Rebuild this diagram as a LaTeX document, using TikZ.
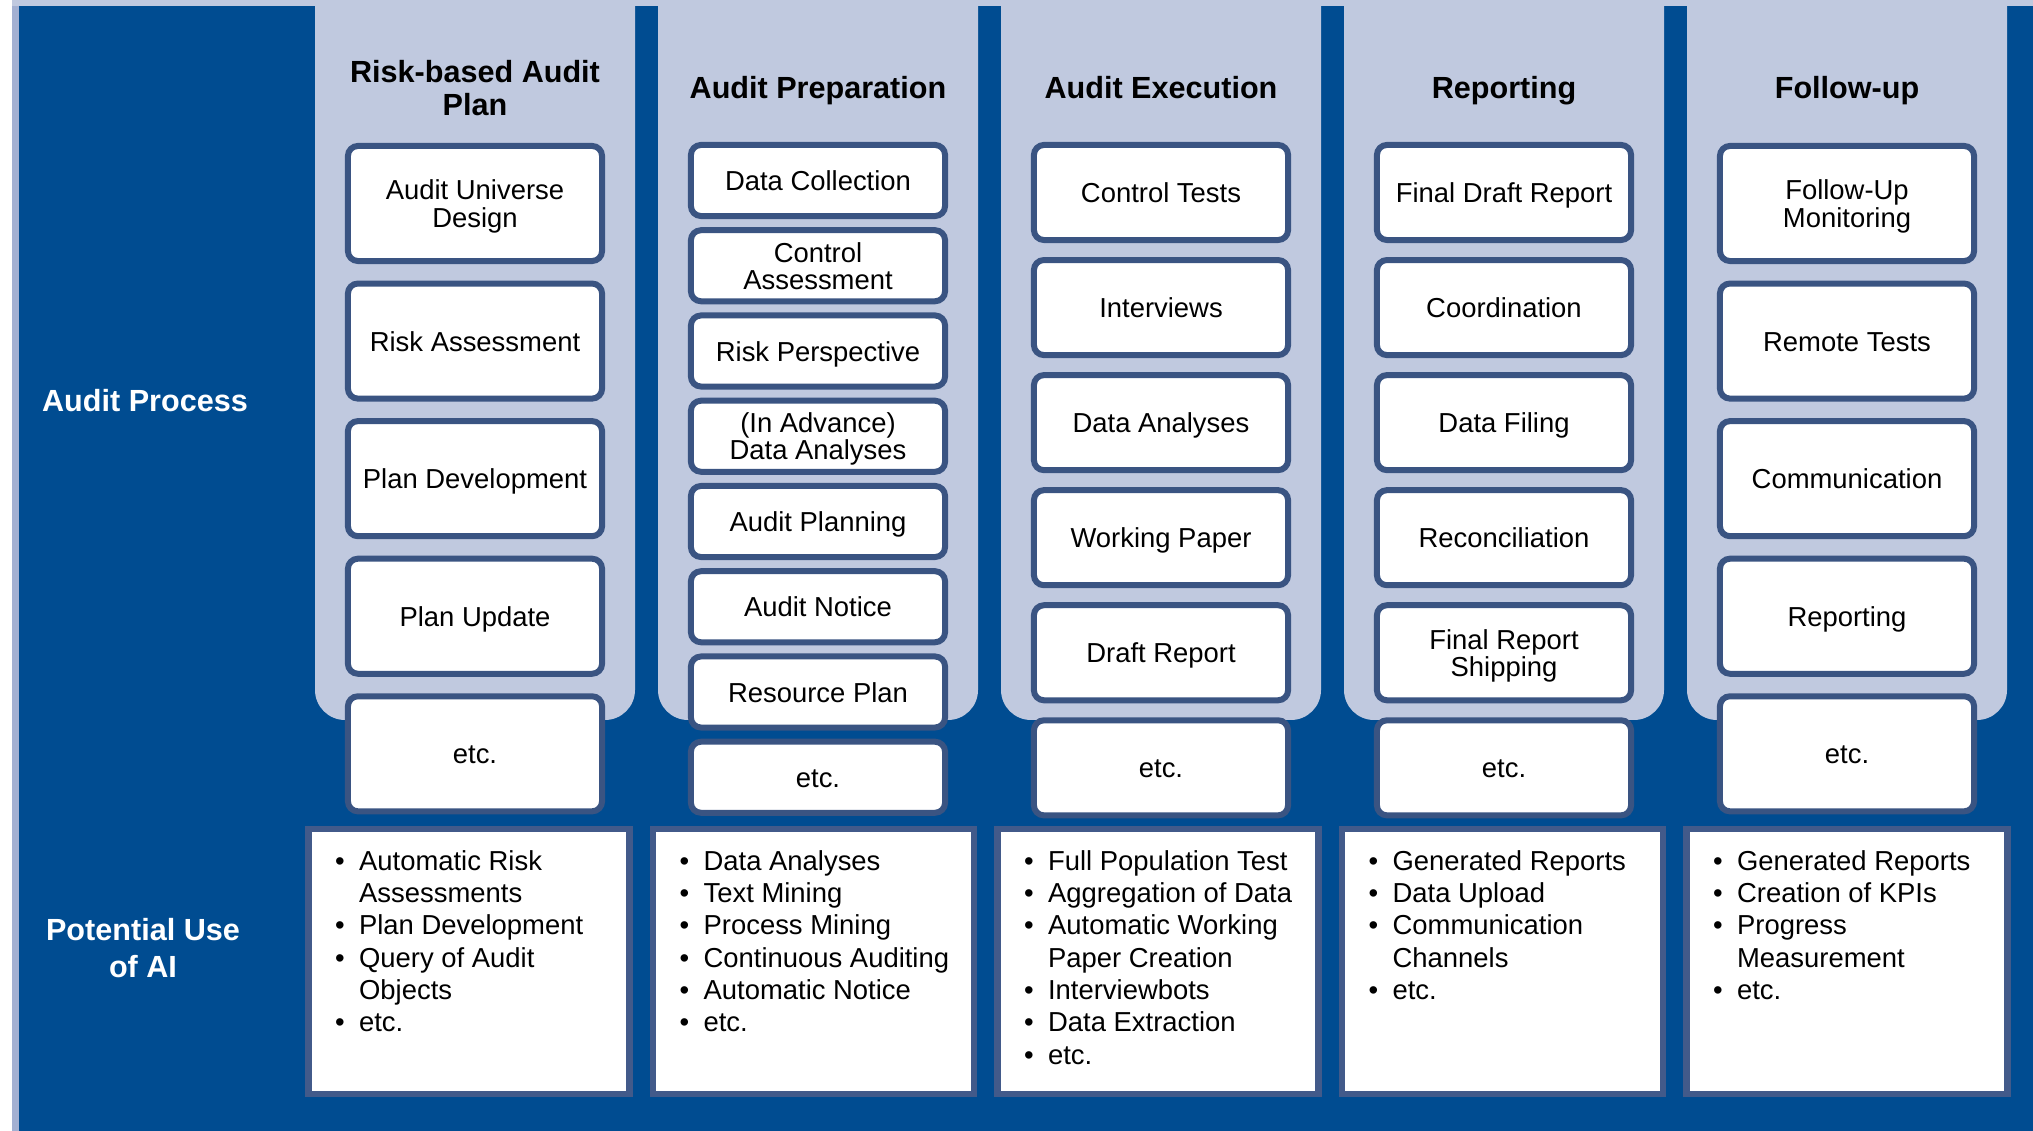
\documentclass[tikz,border=0pt]{standalone}
\usepackage{fontspec}
\setmainfont{Liberation Sans}
\usetikzlibrary{positioning}

\definecolor{bgblue}{RGB}{0,76,145}
\definecolor{colfill}{RGB}{192,201,223}
\definecolor{edgestrip}{RGB}{163,176,210}
\definecolor{boxline}{RGB}{58,84,130}
\definecolor{ailine}{RGB}{66,90,138}

\begin{document}
\begin{tikzpicture}[x=0.01cm, y=-0.01cm,
  phase/.style={font=\fontsize{8.7}{9.6}\selectfont\bfseries, align=center, inner sep=0pt},
  rowlabel/.style={font=\fontsize{8.7}{10.7}\selectfont\bfseries, align=center, text=white, inner sep=0pt},
  pbox/.style={draw=boxline, line width=0.06cm, fill=white, rounded corners=0.1cm,
               minimum width=2.54cm, align=center, inner sep=1pt, font=\fontsize{7.8}{7.8}\selectfont,
               text height=6pt, text depth=0.3pt},
  twoline/.style={text height=13.8pt},
  tallbox/.style={pbox, minimum height=1.15cm},
  slimbox/.style={pbox, minimum height=0.71cm},
  midbox/.style={pbox, minimum height=0.95cm},
  aibox/.style={draw=ailine, line width=0.065cm, fill=white, minimum width=3.205cm, minimum height=2.65cm},
  ailist/.style={anchor=base west, inner sep=0pt, font=\fontsize{7.8}{9.2}\selectfont}
]
\useasboundingbox (0,0) rectangle (2033,1131);

% background
\fill[bgblue] (19,6) rectangle (2033,1131);
\fill[edgestrip] (12,6) rectangle (19,1131);
\fill[colfill] (12,0) rectangle (2033,6);

% phase columns
\fill[colfill, rounded corners=0.3cm] (315,0) -- (315,720) -- (635,720) -- (635,0);
\fill[colfill, rounded corners=0.3cm] (658,0) -- (658,720) -- (978,720) -- (978,0);
\fill[colfill, rounded corners=0.3cm] (1001,0) -- (1001,720) -- (1321,720) -- (1321,0);
\fill[colfill, rounded corners=0.3cm] (1344,0) -- (1344,720) -- (1664,720) -- (1664,0);
\fill[colfill, rounded corners=0.3cm] (1687,0) -- (1687,720) -- (2007,720) -- (2007,0);

% row labels
\node[rowlabel, anchor=base] (lproc) at (145,411.6) {Audit Process};
\node[rowlabel] (lai) at (143,948) {Potential Use\\of AI};

% phase titles
\node[phase] (tplan) at (475,88) {Risk-based Audit\\Plan};
\node[phase, anchor=base] (tprep) at (818,99) {Audit Preparation};
\node[phase, anchor=base] (texec) at (1161,99) {Audit Execution};
\node[phase, anchor=base] (trep) at (1504,99) {Reporting};
\node[phase, anchor=base] (tfol) at (1847,99) {Follow-up};

% risk-based audit plan
\node[tallbox, twoline] (plan1) at (475,203.5) {Audit Universe\\Design};
\node[tallbox, below=0.165cm of plan1] (plan2) {Risk Assessment};
\node[tallbox, below=0.165cm of plan2] (plan3) {Plan Development};
\node[tallbox, below=0.165cm of plan3] (plan4) {Plan Update};
\node[tallbox, below=0.165cm of plan4] (plan5) {etc.};

% audit preparation
\node[slimbox] (prep1) at (818,180.5) {Data Collection};
\node[slimbox, twoline, below=0.082cm of prep1] (prep2) {Control\\Assessment};
\node[slimbox, below=0.082cm of prep2] (prep3) {Risk Perspective};
\node[slimbox, twoline, below=0.082cm of prep3] (prep4) {(In Advance)\\Data Analyses};
\node[slimbox, below=0.082cm of prep4] (prep5) {Audit Planning};
\node[slimbox, below=0.082cm of prep5] (prep6) {Audit Notice};
\node[slimbox, below=0.082cm of prep6] (prep7) {Resource Plan};
\node[slimbox, below=0.082cm of prep7] (prep8) {etc.};

% audit execution
\node[midbox] (exec1) at (1161,192.5) {Control Tests};
\node[midbox, below=0.14cm of exec1] (exec2) {Interviews};
\node[midbox, below=0.14cm of exec2] (exec3) {Data Analyses};
\node[midbox, below=0.14cm of exec3] (exec4) {Working Paper};
\node[midbox, below=0.14cm of exec4] (exec5) {Draft Report};
\node[midbox, below=0.14cm of exec5] (exec6) {etc.};

% reporting
\node[midbox] (rep1) at (1504,192.5) {Final Draft Report};
\node[midbox, below=0.14cm of rep1] (rep2) {Coordination};
\node[midbox, below=0.14cm of rep2] (rep3) {Data Filing};
\node[midbox, below=0.14cm of rep3] (rep4) {Reconciliation};
\node[midbox, twoline, below=0.14cm of rep4] (rep5) {Final Report\\Shipping};
\node[midbox, below=0.14cm of rep5] (rep6) {etc.};

% follow-up
\node[tallbox, twoline] (fol1) at (1847,203.5) {Follow-Up\\Monitoring};
\node[tallbox, below=0.165cm of fol1] (fol2) {Remote Tests};
\node[tallbox, below=0.165cm of fol2] (fol3) {Communication};
\node[tallbox, below=0.165cm of fol3] (fol4) {Reporting};
\node[tallbox, below=0.165cm of fol4] (fol5) {etc.};

% potential use of AI
\node[aibox] (aiplan) at (469,961.5) {};
\node[aibox] (aiprep) at (813.5,961.5) {};
\node[aibox] (aiexec) at (1158,961.5) {};
\node[aibox] (airep) at (1502.5,961.5) {};
\node[aibox] (aifol) at (1847,961.5) {};

\node[ailist] (liplan) at (334.5,870) {\begin{tabular}[t]{@{}p{6.8pt}@{}l@{}}
  \textbullet & Automatic Risk\\ & Assessments\\ \textbullet & Plan Development\\
  \textbullet & Query of Audit\\ & Objects\\ \textbullet & etc.\end{tabular}};
\node[ailist] (liprep) at (679,870) {\begin{tabular}[t]{@{}p{6.8pt}@{}l@{}}
  \textbullet & Data Analyses\\ \textbullet & Text Mining\\ \textbullet & Process Mining\\
  \textbullet & Continuous Auditing\\ \textbullet & Automatic Notice\\ \textbullet & etc.\end{tabular}};
\node[ailist] (liexec) at (1023.5,870) {\begin{tabular}[t]{@{}p{6.8pt}@{}l@{}}
  \textbullet & Full Population Test\\ \textbullet & Aggregation of Data\\
  \textbullet & Automatic Working\\ & Paper Creation\\ \textbullet & Interviewbots\\
  \textbullet & Data Extraction\\ \textbullet & etc.\end{tabular}};
\node[ailist] (lirep) at (1368,870) {\begin{tabular}[t]{@{}p{6.8pt}@{}l@{}}
  \textbullet & Generated Reports\\ \textbullet & Data Upload\\
  \textbullet & Communication\\ & Channels\\ \textbullet & etc.\end{tabular}};
\node[ailist] (lifol) at (1712.5,870) {\begin{tabular}[t]{@{}p{6.8pt}@{}l@{}}
  \textbullet & Generated Reports\\ \textbullet & Creation of KPIs\\
  \textbullet & Progress\\ & Measurement\\ \textbullet & etc.\end{tabular}};
\end{tikzpicture}
\end{document}
